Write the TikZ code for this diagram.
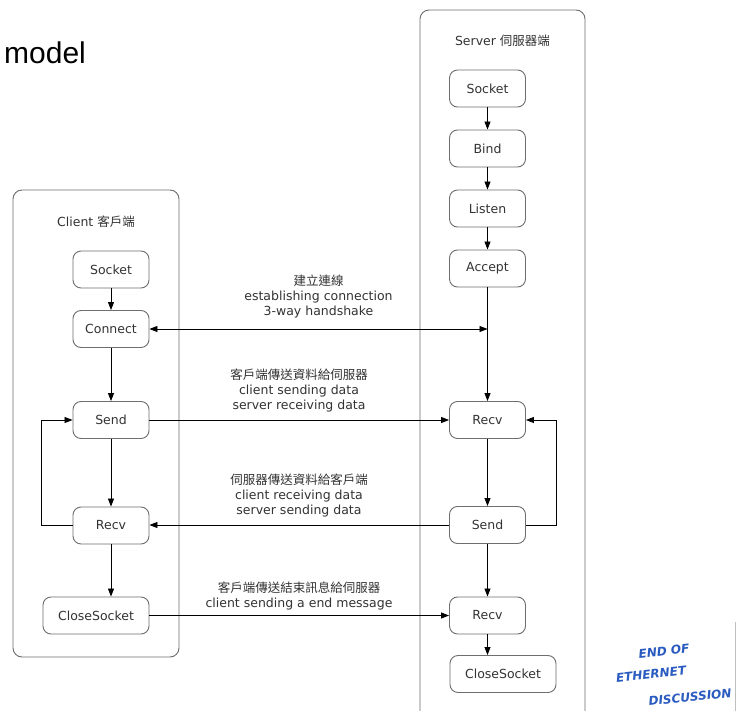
\documentclass[tikz,border=0pt]{standalone}
\usepackage{fontspec}
\setmainfont{DejaVu Sans}
\newfontfamily\cjk{Noto Sans CJK TC}
\newfontfamily\arialfont{Liberation Sans}
\usetikzlibrary{arrows.meta,calc}
\definecolor{txt}{HTML}{333333}
\definecolor{frame}{HTML}{6E6E6E}
\definecolor{ink}{HTML}{2A5BC0}
\tikzset{
  box/.style={draw=frame, line width=0.9pt, rounded corners=8pt, minimum width=76pt, minimum height=37pt,
    inner sep=0pt, text=txt, font=\fontsize{12.5}{15}\selectfont},
  widebox/.style={box, minimum width=106pt},
  lane/.style={draw=frame, line width=0.9pt, rounded corners=9pt},
  lbl/.style={text=txt, align=center, font=\fontsize{12.5}{15}\selectfont, inner sep=0pt},
  conn/.style={draw=black, line width=0.8pt},
  arr/.style={conn, -{Triangle[length=8pt,width=6pt]}},
  darr/.style={conn, {Triangle[length=8pt,width=6pt]}-{Triangle[length=8pt,width=6pt]}},
  hand/.style={text=ink, font=\fontsize{12}{12}\selectfont\itshape\bfseries, inner sep=0pt, rotate=6}
}
\begin{document}
\begin{tikzpicture}[x=1pt,y=-1pt]
\useasboundingbox (0,0) rectangle (736,711);
\clip (0,0) rectangle (736,711);
\fill[white] (0,0) rectangle (736,711);

% title
\node[anchor=west, inner sep=0pt, font=\arialfont\fontsize{30}{30}\selectfont] (title) at (4,53) {model};

% lanes
\draw[lane] (13,190) rectangle (179,657);
\draw[lane] (420,10) rectangle (585,740);
\node[lbl] (ctitle) at (96,222) {Client {\cjk 客戶端}};
\node[lbl] (stitle) at (502.5,41) {Server {\cjk 伺服器端}};

% client nodes
\node[box] (cSock) at (111,269.5) {Socket};
\node[box] (cConn) at (111,329) {Connect};
\node[box] (cSend) at (111,420) {Send};
\node[box] (cRecv) at (111,525.5) {Recv};
\node[widebox] (cClose) at (96,615.5) {CloseSocket};

% server nodes
\node[box] (sSock) at (487.5,88.5) {Socket};
\node[box] (sBind) at (487.5,148.5) {Bind};
\node[box] (sListen) at (487.5,208.5) {Listen};
\node[box] (sAccept) at (487.5,268.5) {Accept};
\node[box] (sRecv) at (487.5,420) {Recv};
\node[box] (sSend) at (487.5,525) {Send};
\node[box] (sRecv2) at (487.5,615.5) {Recv};
\node[widebox] (sClose) at (503,674) {CloseSocket};

% client flow
\draw[arr] (cSock) -- (cConn);
\draw[arr] (cConn) -- (cSend);
\draw[arr] (cSend) -- (cRecv);
\draw[arr] (cRecv.south) -- (cRecv.south |- cClose.north);
\draw[arr] (cRecv.west) -- ++(-31,0) |- (cSend.west);

% server flow
\draw[arr] (sSock) -- (sBind);
\draw[arr] (sBind) -- (sListen);
\draw[arr] (sListen) -- (sAccept);
\draw[arr] (sAccept) -- (sRecv);
\draw[arr] (sRecv) -- (sSend);
\draw[arr] (sSend) -- (sRecv2);
\draw[arr] (sRecv2.south) -- (sRecv2.south |- sClose.north);
\draw[arr] (sSend.east) -- ++(30,0) |- (sRecv.east);

% messages
\coordinate (hs) at (sAccept.south |- cConn.east);
\draw[darr] (cConn.east) -- (hs);
\draw[arr] (cSend.east) -- (sRecv.west);
\draw[arr] (sSend.west) -- (sSend.west -| cRecv.east);
\draw[arr] (cClose.east) -- (cClose.east -| sRecv2.west);

% labels
\node[lbl] (l1) at (318.5,296.5) {{\cjk 建立連線}\\establishing connection\\3-way handshake};
\node[lbl] (l2) at (299,390.5) {{\cjk 客戶端傳送資料給伺服器}\\client sending data\\server receiving data};
\node[lbl] (l3) at (299,495.5) {{\cjk 伺服器傳送資料給客戶端}\\client receiving data\\server sending data};
\node[lbl] (l4) at (299,596) {{\cjk 客戶端傳送結束訊息給伺服器}\\client sending a end message};

% handwritten note
\node[hand] (h1) at (664,651) {END OF};
\node[hand] (h2) at (651,674) {ETHERNET};
\node[hand] (h3) at (690,697) {DISCUSSION};

% slide edge
\draw[draw=black!25, line width=0.8pt] (735,622) -- (735,711);
\end{tikzpicture}
\end{document}
